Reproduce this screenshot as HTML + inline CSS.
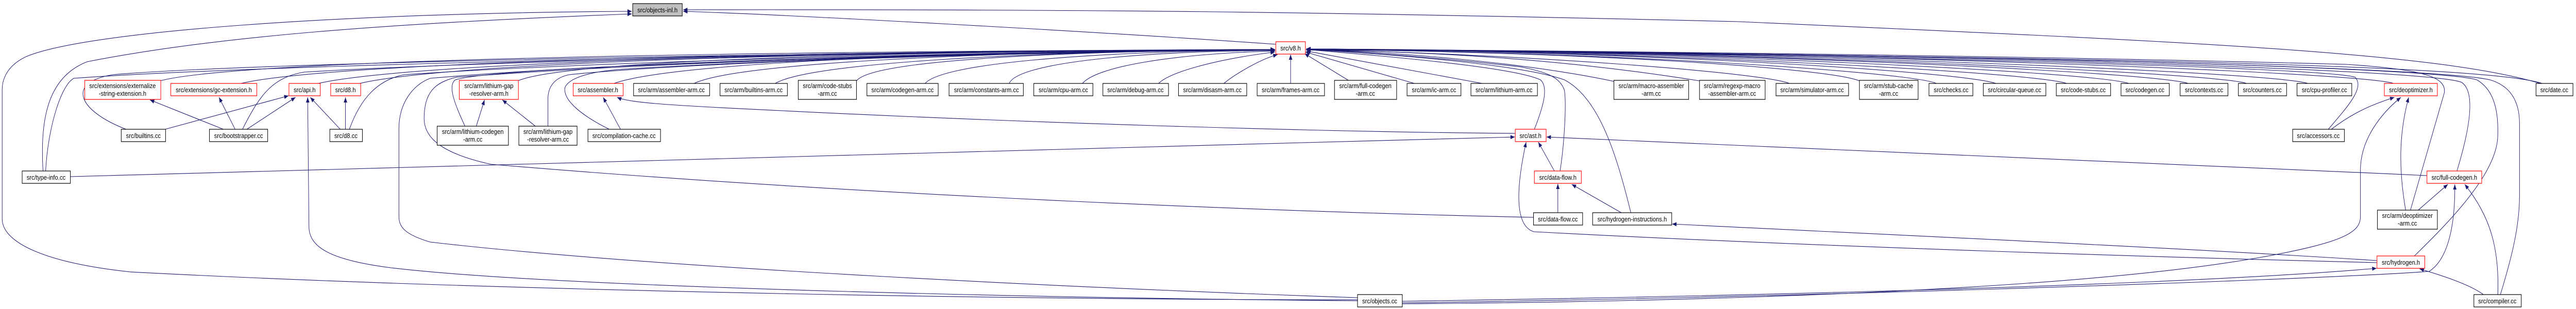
<!DOCTYPE html>
<html><head><meta charset="utf-8"><meta name="viewport" content="width=5928"><style>
html,body{margin:0;padding:0;background:#fff;width:100%;height:100%;overflow:hidden;}
svg{display:block;width:100vw;height:100vh;}
text{font-family:"Liberation Sans",Arial,sans-serif;font-size:13.3px;fill:#000;text-anchor:middle;}
.e{fill:none;stroke:#191970;stroke-width:1.1;marker-end:url(#a);}
.n{fill:#fff;stroke:#000;stroke-width:1.2;}
.r{fill:#fff;stroke:#ff0000;stroke-width:1.2;}
</style></head><body>
<svg viewBox="0 0 5928 600" preserveAspectRatio="none" xmlns="http://www.w3.org/2000/svg">
<defs><marker id="a" viewBox="0 0 10 8" refX="10" refY="4" markerWidth="11" markerHeight="8" markerUnits="userSpaceOnUse" orient="auto"><path d="M0,0 L10,4 L0,8 z" fill="#191970"/></marker></defs>

<path class="e" d="M3124,582 C2500,583 1200,568 300,528 C100,510 5,470 5,425 L5,175 C5,160 10,130 60,110 C200,60 800,25 1454,22"/>
<path class="e" d="M99,332 C92,230 110,150 200,120 C500,70 900,45 1454,27"/>
<path class="e" d="M2936,86 C2500,60 1800,28 1572,22"/>
<path class="e" d="M5846,162 C5600,100 5000,80 4000,42 C3000,22 2500,18 1572,19"/>

<path class="e" d="M368,157 C547,117 1609,100 2934,96"/>
<path class="e" d="M550,163 C736,123 1714,100 2934,96"/>
<path class="e" d="M727,163 C924,123 1818,100 2934,96"/>
<path class="e" d="M823,163 C1009,123 1865,100 2934,96"/>
<path class="e" d="M1191,157 C1306,117 2030,100 2934,96"/>
<path class="e" d="M1410,163 C1532,123 2156,100 2934,96"/>
<path class="e" d="M1595,163 C1684,123 2240,100 2934,96"/>
<path class="e" d="M1782,163 C1854,123 2335,100 2934,96"/>
<path class="e" d="M1971,157 C2007,117 2420,100 2934,96"/>
<path class="e" d="M2128,163 C2163,123 2506,100 2934,97"/>
<path class="e" d="M2322,163 C2337,123 2603,100 2934,98"/>
<path class="e" d="M2490,163 C2520,130 2691,105 2934,99"/>
<path class="e" d="M2665,163 C2690,140 2800,115 2934,101"/>
<path class="e" d="M2815,163 C2840,145 2900,115 2940,106"/>
<path class="e" d="M2970,162 L2970,106"/>
<path class="e" d="M290,251 C180,215 150,160 260,145 C600,120 2000,100 2934,96"/>
<path class="e" d="M558,251 C600,180 630,150 700,140 C1200,115 2200,100 2934,96"/>
<path class="e" d="M804,251 C830,190 870,155 930,145 C1400,118 2300,100 2934,96"/>
<path class="e" d="M105,332 C110,250 140,165 170,152 C600,125 2000,100 2934,96"/>
<path class="e" d="M3124,578 C2500,560 1500,520 990,470 C930,455 918,440 918,420 L918,250 C918,200 950,165 990,152 C1500,115 2400,100 2934,96"/>
<path class="e" d="M3529,422 C3000,413 2000,381 1130,319 C1000,295 976,260 976,230 C976,180 1000,160 1050,150 C1600,115 2400,100 2934,96"/>
<path class="e" d="M1402,251 C1340,225 1295,195 1300,170 C1310,150 1360,140 1420,135 C1900,110 2500,100 2934,96"/>
<path class="e" d="M1070,245 C1045,200 1030,165 1048,155 C1100,140 1500,115 2934,96"/>
<path class="e" d="M1261,245 L1261,190 C1262,165 1280,150 1310,145 C1600,120 2400,100 2934,96"/>

<path class="e" d="M3105,157 L3002,104"/>
<path class="e" d="M3255,162 L3004,101"/>
<path class="e" d="M3411,162 L3006,99"/>
<path class="e" d="M3714,158 C3500,120 3200,100 3006,97"/>
<path class="e" d="M3911,157 C3600,115 3300,100 3006,97"/>
<path class="e" d="M4118,162 C4050,140 3500,105 3006,96"/>
<path class="e" d="M4279,157 C4200,130 3600,100 3006,96"/>
<path class="e" d="M4456,162 C4400,140 3700,100 3006,96"/>
<path class="e" d="M4593,162 C4520,140 3800,100 3006,95"/>
<path class="e" d="M4756,162 C4680,140 3800,100 3006,95"/>
<path class="e" d="M4899,162 C4820,140 3900,100 3006,95"/>
<path class="e" d="M5036,162 C4950,140 4000,100 3006,95"/>
<path class="e" d="M5170,162 C5090,140 4000,100 3006,95"/>
<path class="e" d="M5311,162 C5230,140 4100,100 3006,95"/>
<path class="e" d="M5508,162 C5430,140 4200,100 3006,95"/>
<path class="e" d="M5850,162 C5700,120 4500,110 3006,95"/>
<path class="e" d="M5358,251 C5410,200 5440,170 5420,150 C5350,130 4200,105 3006,95"/>
<path class="e" d="M5547,408 L5625,180 C5630,150 5580,135 5400,125 C4500,105 3500,98 3006,95"/>
<path class="e" d="M5654,332 C5680,260 5700,180 5665,160 C5600,135 4500,105 3006,95"/>
<path class="e" d="M5556,497 C5650,420 5750,330 5748,260 C5750,200 5730,170 5700,155 C5600,130 4500,105 3006,95"/>
<path class="e" d="M5754,572 C5780,500 5798,440 5798,380 L5798,240 C5798,190 5770,165 5730,155 C5600,130 4500,105 3006,95"/>
<path class="e" d="M3590,332 C3600,280 3605,200 3600,175 C3590,150 3560,140 3500,130 C3300,110 3100,100 3006,96"/>
<path class="e" d="M3531,251 C3550,210 3565,170 3545,155 C3480,130 3200,110 3006,96"/>
<path class="e" d="M3753,413 C3720,300 3680,190 3600,155 C3500,125 3200,105 3006,96"/>

<path class="e" d="M514,251 L345,194"/>
<path class="e" d="M541,251 L504,189"/>
<path class="e" d="M568,251 L680,189"/>
<path class="e" d="M380,251 L664,186"/>
<path class="e" d="M783,251 L714,189"/>
<path class="e" d="M795,251 L795,189"/>
<path class="e" d="M3124,584 C2500,580 1300,560 900,520 C760,505 711,480 711,440 L708,189"/>
<path class="e" d="M1096,245 L1115,194"/>
<path class="e" d="M1232,245 L1156,194"/>
<path class="e" d="M1428,251 L1388,189"/>
<path class="e" d="M3487,259 C3000,256 2300,236 1800,215 C1550,205 1450,200 1420,189"/>
<path class="e" d="M162,343 C1000,320 2000,300 3000,277 L3486,266"/>
<path class="e" d="M3577,332 L3540,276"/>
<path class="e" d="M3585,413 L3585,357"/>
<path class="e" d="M3731,413 L3617,358"/>
<path class="e" d="M5585,341 C4800,310 4000,285 3559,266"/>
<path class="e" d="M5470,506 C5000,480 4200,450 3848,435"/>
<path class="e" d="M5470,510 C5000,500 4200,480 3530,450 C3490,440 3485,380 3512,276"/>
<path class="e" d="M5365,251 C5420,215 5470,200 5510,189"/>
<path class="e" d="M5536,408 C5520,330 5520,260 5543,189"/>
<path class="e" d="M5565,408 L5633,358"/>
<path class="e" d="M5715,572 C5680,550 5600,530 5568,522"/>
<path class="e" d="M5748,572 C5752,480 5730,420 5672,358"/>
<path class="e" d="M3227,585 C4000,575 5000,555 5469,521"/>
<path class="e" d="M3227,588 C4000,580 5300,545 5590,527 C5640,500 5650,420 5649,358"/>
<path class="e" d="M3227,590 C4000,585 4800,560 5200,500 C5400,470 5432,450 5432,420 L5432,330 C5432,270 5480,220 5525,189"/>

<rect x="1456" y="7" width="114" height="24" fill="#bfbfbf" stroke="#000" stroke-width="1.2"/><text x="1513" y="24">src/objects-inl.h</text>
<rect class="r" x="2936" y="81" width="68" height="24"/><text x="2970" y="98">src/v8.h</text>

<rect class="r" x="195" y="156" width="175" height="37"/><text x="282" y="171">src/extensions/externalize</text><text x="282" y="186">-string-extension.h</text>
<rect class="r" x="393" y="162" width="198" height="24"/><text x="492" y="179">src/extensions/gc-extension.h</text>
<rect class="r" x="665" y="162" width="72" height="24"/><text x="701" y="179">src/api.h</text>
<rect class="r" x="761" y="162" width="69" height="24"/><text x="795" y="179">src/d8.h</text>
<rect class="r" x="1057" y="156" width="136" height="37"/><text x="1125" y="171">src/arm/lithium-gap</text><text x="1125" y="186">-resolver-arm.h</text>
<rect class="r" x="1319" y="162" width="115" height="24"/><text x="1376" y="179">src/assembler.h</text>
<rect class="n" x="1458" y="162" width="175" height="24"/><text x="1545" y="179">src/arm/assembler-arm.cc</text>
<rect class="n" x="1657" y="162" width="155" height="24"/><text x="1734" y="179">src/arm/builtins-arm.cc</text>
<rect class="n" x="1837" y="156" width="134" height="37"/><text x="1904" y="171">src/arm/code-stubs</text><text x="1904" y="186">-arm.cc</text>
<rect class="n" x="1995" y="162" width="164" height="24"/><text x="2077" y="179">src/arm/codegen-arm.cc</text>
<rect class="n" x="2184" y="162" width="171" height="24"/><text x="2270" y="179">src/arm/constants-arm.cc</text>
<rect class="n" x="2379" y="162" width="136" height="24"/><text x="2447" y="179">src/arm/cpu-arm.cc</text>
<rect class="n" x="2538" y="162" width="151" height="24"/><text x="2613" y="179">src/arm/debug-arm.cc</text>
<rect class="n" x="2712" y="162" width="157" height="24"/><text x="2790" y="179">src/arm/disasm-arm.cc</text>
<rect class="n" x="2893" y="162" width="155" height="24"/><text x="2970" y="179">src/arm/frames-arm.cc</text>
<rect class="n" x="3071" y="156" width="143" height="37"/><text x="3142" y="171">src/arm/full-codegen</text><text x="3142" y="186">-arm.cc</text>
<rect class="n" x="3238" y="162" width="124" height="24"/><text x="3300" y="179">src/arm/ic-arm.cc</text>
<rect class="n" x="3385" y="162" width="153" height="24"/><text x="3461" y="179">src/arm/lithium-arm.cc</text>
<rect class="n" x="3714" y="156" width="172" height="37"/><text x="3800" y="171">src/arm/macro-assembler</text><text x="3800" y="186">-arm.cc</text>
<rect class="n" x="3911" y="156" width="151" height="37"/><text x="3986" y="171">src/arm/regexp-macro</text><text x="3986" y="186">-assembler-arm.cc</text>
<rect class="n" x="4087" y="162" width="167" height="24"/><text x="4170" y="179">src/arm/simulator-arm.cc</text>
<rect class="n" x="4279" y="156" width="135" height="37"/><text x="4346" y="171">src/arm/stub-cache</text><text x="4346" y="186">-arm.cc</text>
<rect class="n" x="4439" y="162" width="101" height="24"/><text x="4490" y="179">src/checks.cc</text>
<rect class="n" x="4564" y="162" width="144" height="24"/><text x="4636" y="179">src/circular-queue.cc</text>
<rect class="n" x="4732" y="162" width="125" height="24"/><text x="4794" y="179">src/code-stubs.cc</text>
<rect class="n" x="4881" y="162" width="111" height="24"/><text x="4936" y="179">src/codegen.cc</text>
<rect class="n" x="5017" y="162" width="110" height="24"/><text x="5072" y="179">src/contexts.cc</text>
<rect class="n" x="5151" y="162" width="111" height="24"/><text x="5206" y="179">src/counters.cc</text>
<rect class="n" x="5286" y="162" width="126" height="24"/><text x="5349" y="179">src/cpu-profiler.cc</text>
<rect class="r" x="5487" y="162" width="122" height="24"/><text x="5548" y="179">src/deoptimizer.h</text>
<rect class="n" x="5836" y="162" width="85" height="24"/><text x="5878" y="179">src/date.cc</text>

<rect class="n" x="279" y="251" width="102" height="24"/><text x="330" y="268">src/builtins.cc</text>
<rect class="n" x="482" y="251" width="134" height="24"/><text x="549" y="268">src/bootstrapper.cc</text>
<rect class="n" x="759" y="251" width="75" height="24"/><text x="796" y="268">src/d8.cc</text>
<rect class="n" x="1006" y="245" width="164" height="37"/><text x="1088" y="260">src/arm/lithium-codegen</text><text x="1088" y="275">-arm.cc</text>
<rect class="n" x="1194" y="245" width="134" height="37"/><text x="1261" y="260">src/arm/lithium-gap</text><text x="1261" y="275">-resolver-arm.cc</text>
<rect class="n" x="1353" y="251" width="167" height="24"/><text x="1436" y="268">src/compilation-cache.cc</text>
<rect class="r" x="3487" y="251" width="71" height="24"/><text x="3522" y="268">src/ast.h</text>
<rect class="n" x="5276" y="251" width="119" height="24"/><text x="5335" y="268">src/accessors.cc</text>

<rect class="n" x="51" y="332" width="111" height="24"/><text x="106" y="349">src/type-info.cc</text>
<rect class="r" x="3531" y="332" width="108" height="24"/><text x="3585" y="349">src/data-flow.h</text>
<rect class="r" x="5585" y="332" width="126" height="24"/><text x="5648" y="349">src/full-codegen.h</text>

<rect class="n" x="3529" y="413" width="113" height="24"/><text x="3585" y="430">src/data-flow.cc</text>
<rect class="n" x="3665" y="413" width="182" height="24"/><text x="3756" y="430">src/hydrogen-instructions.h</text>
<rect class="n" x="5471" y="408" width="138" height="37"/><text x="5540" y="423">src/arm/deoptimizer</text><text x="5540" y="438">-arm.cc</text>

<rect class="r" x="5470" y="497" width="110" height="24"/><text x="5525" y="514">src/hydrogen.h</text>
<rect class="n" x="3124" y="572" width="103" height="24"/><text x="3175" y="589">src/objects.cc</text>
<rect class="n" x="5693" y="572" width="109" height="24"/><text x="5747" y="589">src/compiler.cc</text>
</svg>
</body></html>
